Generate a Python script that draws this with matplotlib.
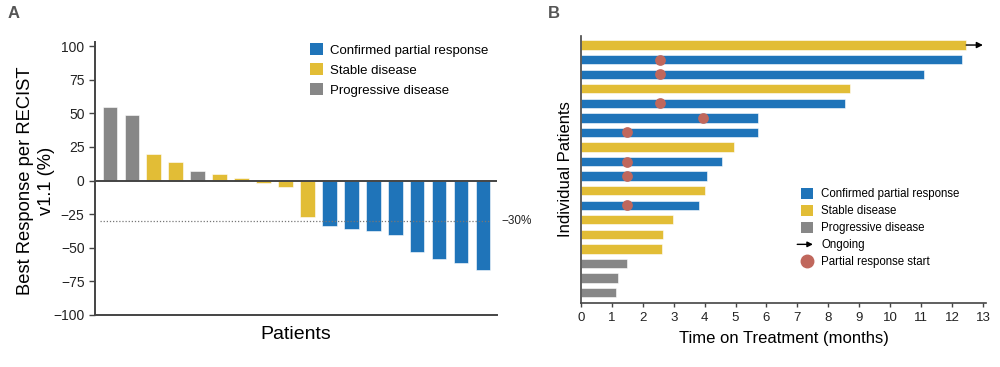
import matplotlib.pyplot as plt
from matplotlib.patches import Patch, FancyArrowPatch
from matplotlib.lines import Line2D
from matplotlib.legend_handler import HandlerBase

plt.rcParams['font.family'] = ['Liberation Sans', 'DejaVu Sans']

BLUE = "#1f74b9"
YELLOW = "#e2bd36"
GRAY = "#878787"
DOT = "#c0675c"
AXC = "#444444"

# Panel A: best response per patient (waterfall)
resp_values = [54.6, 48.6, 19.6, 13.6, 6.7, 4.7, 1.5, -2.2, -5.2, -27.3,
               -34.2, -36.2, -37.2, -40.2, -53.3, -58.0, -61.3, -66.3]
resp_groups = ["PD", "PD", "SD", "SD", "PD", "SD", "SD", "SD", "SD", "SD",
               "PR", "PR", "PR", "PR", "PR", "PR", "PR", "PR"]
threshold = -30

# Panel B: time on treatment per patient (top to bottom)
months = [12.46, 12.33, 11.11, 8.71, 8.55, 5.73, 5.73, 4.95, 4.56, 4.07,
          4.00, 3.83, 2.98, 2.65, 2.61, 1.50, 1.21, 1.14]
swim_groups = ["SD", "PR", "PR", "SD", "PR", "PR", "PR", "SD", "PR", "PR",
               "SD", "PR", "SD", "SD", "SD", "PD", "PD", "PD"]
pr_start = [None, 2.56, 2.56, None, 2.56, 3.96, 1.50, None, 1.50, 1.50,
            None, 1.50, None, None, None, None, None, None]
ongoing = [True] + [False] * 17
ongoing_end = 13.0

colors = {"PR": BLUE, "SD": YELLOW, "PD": GRAY}
labels = {"PR": "Confirmed partial response", "SD": "Stable disease",
          "PD": "Progressive disease"}


class ArrowHandler(HandlerBase):
    def create_artists(self, legend, orig_handle, xdescent, ydescent,
                       width, height, fontsize, trans):
        y = height / 2 - ydescent
        a = FancyArrowPatch((-xdescent - 3, y), (width - xdescent, y),
                            arrowstyle="-|>", mutation_scale=8, color="black",
                            lw=1, shrinkA=0, shrinkB=0, transform=trans)
        return [a]


fig = plt.figure(figsize=(10, 3.67), dpi=100)

# ---------- A ----------
axA = fig.add_axes([0.095, 1 - 315 / 367, 0.402, 269 / 367])
xs = list(range(len(resp_values)))
axA.bar(xs, resp_values, width=0.67, color=[colors[g] for g in resp_groups],
        edgecolor="white", linewidth=0.4)
axA.axhline(0, color=AXC, lw=1.4, zorder=3)
axA.plot([-0.45, 17.3], [threshold, threshold], ls=(0, (1, 1.5)), color="#777777", lw=0.9)
axA.text(1.01, (threshold + 100) / 200, "\u221230%", transform=axA.transAxes,
         va="center", ha="left", fontsize=8.5, color="#222222")
axA.set_xlim(-0.68, 17.64)
axA.set_ylim(-100, 100)
yt = [100, 75, 50, 25, 0, -25, -50, -75, -100]
axA.set_yticks(yt)
axA.set_yticklabels([str(v).replace("-", "\u2212") for v in yt])
axA.set_xticks([])
for s in ["top", "right"]:
    axA.spines[s].set_visible(False)
for s in ["left", "bottom"]:
    axA.spines[s].set_color(AXC)
    axA.spines[s].set_linewidth(1.4)
axA.spines["left"].set_bounds(-100, 103)
axA.tick_params(axis="y", labelsize=10, colors="#222222", length=4, width=1, color=AXC)
axA.set_ylabel("Best Response per RECIST\nv1.1 (%)", fontsize=13.2, linespacing=1.3)
axA.yaxis.set_label_coords(-0.1, 0.5)
axA.set_xlabel("Patients", fontsize=14, labelpad=8)
hA = [Patch(facecolor=colors[k], label=labels[k]) for k in ["PR", "SD", "PD"]]
axA.legend(handles=hA, loc="upper left", bbox_to_anchor=(0.518, 1.035), frameon=False,
           fontsize=9.5, handlelength=1.0, handleheight=1.0, handletextpad=0.55,
           labelspacing=0.5, borderpad=0)
fig.text(0.008, 0.951, "A", fontsize=12, fontweight="bold", color="#555555")

# ---------- B ----------
axB = fig.add_axes([0.581, 1 - 303 / 367, 0.405, 267 / 367])
ys = list(range(len(months)))
axB.barh(ys, months, height=0.64, color=[colors[g] for g in swim_groups],
         edgecolor="white", linewidth=0.4)
for y, p in zip(ys, pr_start):
    if p is not None:
        axB.scatter(p, y, s=60, color=DOT, zorder=4, linewidths=0)
for y, m, on in zip(ys, months, ongoing):
    if on:
        axB.annotate("", xy=(ongoing_end, y), xytext=(m, y),
                     arrowprops=dict(arrowstyle="-|>", color="black", lw=1,
                                     mutation_scale=9, shrinkA=0, shrinkB=0))
axB.set_xlim(0, 13.1)
axB.set_ylim(17.71, -0.62)
axB.set_xticks(range(0, 14))
axB.set_yticks([])
for s in ["top", "right"]:
    axB.spines[s].set_visible(False)
for s in ["left", "bottom"]:
    axB.spines[s].set_color(AXC)
    axB.spines[s].set_linewidth(1.2)
axB.tick_params(axis="x", labelsize=9.5, colors="#222222", length=3, width=1, color=AXC)
axB.set_xlabel("Time on Treatment (months)", fontsize=12, labelpad=5)
axB.set_ylabel("Individual Patients", fontsize=12, labelpad=6)
hB = [Patch(facecolor=colors[k], label=labels[k]) for k in ["PR", "SD", "PD"]]
arrow_handle = Line2D([], [], color="black", label="Ongoing")
hB.append(arrow_handle)
hB.append(Line2D([], [], color=DOT, marker="o", linestyle="None", markersize=9,
                 label="Partial response start"))
axB.legend(handles=hB, loc="upper left", bbox_to_anchor=(0.53, 0.451), frameon=False,
           fontsize=8.3, handlelength=1.0, handleheight=1.0, handletextpad=0.7,
           labelspacing=0.42, borderpad=0, handler_map={arrow_handle: ArrowHandler()})
fig.text(0.548, 0.951, "B", fontsize=12, fontweight="bold", color="#555555")

fig.savefig("out.png", dpi=100)
